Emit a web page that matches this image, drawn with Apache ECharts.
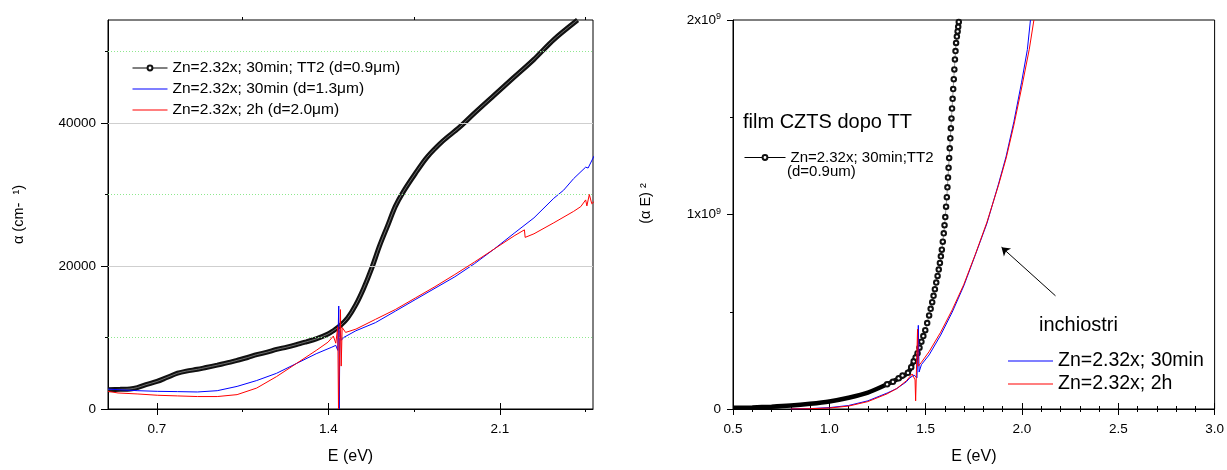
<!DOCTYPE html>
<html>
<head>
<meta charset="utf-8">
<script src="https://cdn.jsdelivr.net/npm/echarts/dist/echarts.min.js"></script>
<style>
html,body{margin:0;padding:0;background:#fff;}
#chart{width:1227px;height:470px;}
</style>
</head>
<body>
<div id="chart"></div>
<script>
// ---------- Left panel: absorption coefficient alpha (cm^-1) vs E (eV) ----------
const LEFT_E_LABELS = [0.7, 1.4, 2.1];
const LEFT_E_MINOR = [1.05, 1.75, 2.45];
const LEFT_ALPHA_LABELS = [0, 20000, 40000];
const LEFT_ALPHA_MINOR = [10000, 30000, 50000];
const LEFT_GRID_SOLID = [20000, 40000];
const LEFT_GRID_DOTTED = [10000, 30000, 50000];

const NAME_TT2_LEFT = 'Zn=2.32x; 30min; TT2 (d=0.9\u03bcm)';
const NAME_30_LEFT = 'Zn=2.32x; 30min (d=1.3\u03bcm)';
const NAME_2H_LEFT = 'Zn=2.32x; 2h (d=2.0\u03bcm)';

const leftTT2 = [
  [0.50,2700],[0.55,2750],[0.59,2800],[0.62,3000],[0.655,3400],[0.70,3850],[0.74,4400],
  [0.784,5000],[0.82,5300],[0.865,5550],[0.90,5800],[0.946,6130],[1.00,6550],[1.027,6800],
  [1.07,7200],[1.107,7600],[1.15,7950],[1.188,8330],[1.23,8650],[1.269,9000],[1.31,9400],
  [1.35,9800],[1.398,10480],[1.42,10950],[1.447,11620],[1.479,12770],[1.512,14600],
  [1.544,16900],[1.576,19630],[1.609,22840],[1.641,25580],[1.673,28330],[1.706,30400],
  [1.754,32900],[1.802,35200],[1.867,37480],[1.932,39300],[1.996,41370],[2.077,43890],
  [2.158,46400],[2.239,48900],[2.32,51670],[2.417,54400]
];
const left30min = [
  [0.50,2790],[0.541,2700],[0.622,2560],[0.703,2470],[0.784,2430],[0.865,2380],[0.946,2560],
  [1.027,3160],[1.107,3980],[1.188,4990],[1.269,6360],[1.35,7730],[1.414,8650],[1.43,8900],
  [1.438,8200],[1.442,14400],[1.444,0],[1.447,11000],[1.452,9600],[1.463,10020],[1.512,10940],
  [1.592,12080],[1.673,13680],[1.754,15290],[1.835,16890],[1.916,18490],[1.996,20320],
  [2.077,22380],[2.158,24580],[2.239,26730],[2.32,29470],[2.36,30600],[2.401,32220],
  [2.45,33820],[2.46,33700],[2.485,35420]
];
const left2h = [
  [0.50,2470],[0.541,2240],[0.622,2100],[0.703,1920],[0.784,1830],[0.865,1740],[0.946,1740],
  [1.027,2010],[1.107,2930],[1.188,4530],[1.269,6360],[1.35,8190],[1.398,9340],[1.42,10200],
  [1.43,9200],[1.438,11500],[1.441,0],[1.446,0],[1.449,13900],[1.452,6000],[1.456,11400],
  [1.47,10710],[1.512,11170],[1.592,12540],[1.673,13910],[1.754,15510],[1.835,17110],
  [1.916,18810],[1.996,20550],[2.077,22380],[2.158,24210],[2.19,24850],[2.20,25050],
  [2.203,24000],[2.239,24500],[2.32,26040],[2.401,27640],[2.43,28300],[2.45,29240],
  [2.455,28400],[2.465,30000],[2.475,28700],[2.485,29010]
];

// ---------- Right panel: (alpha E)^2 vs E (eV) ----------
const NAME_TT2_RIGHT = 'Zn=2.32x; 30min;TT2';
const NAME_TT2_RIGHT_2 = '(d=0.9um)';
const NAME_30_RIGHT = 'Zn=2.32x; 30min';
const NAME_2H_RIGHT = 'Zn=2.32x; 2h';
const TITLE_FILM = 'film CZTS dopo TT';
const TITLE_INK = 'inchiostri';

const rightTT2Band = [
  [0.5,6e6],[0.6,8e6],[0.7,1.2e7],[0.8,1.8e7],[0.9,2.7e7],[1.0,3.9e7],[1.1,5.8e7],
  [1.2,8.4e7],[1.3,1.27e8],[1.35,1.52e8],[1.408,1.86e8],[1.438,2.45e8],[1.458,2.87e8]
];
const rightTT2Points = [
  [1.30,1.27e8],[1.33,1.40e8],[1.36,1.58e8],[1.38,1.72e8],[1.408,1.86e8],[1.425,2.15e8],
  [1.438,2.45e8],[1.448,2.65e8],[1.458,2.87e8],[1.468,3.15e8],[1.478,3.46e8],[1.488,3.75e8],
  [1.498,4.05e8],[1.508,4.42e8],[1.518,4.81e8],[1.526,5.15e8],[1.534,5.49e8],[1.541,5.82e8],
  [1.548,6.16e8],[1.555,6.50e8],[1.562,6.84e8],[1.568,7.17e8],[1.574,7.51e8],[1.579,7.85e8],
  [1.584,8.19e8],[1.589,8.60e8],[1.594,9.03e8],[1.598,9.45e8],[1.602,9.87e8],[1.606,1.04e9],
  [1.61,1.089e9],[1.613,1.14e9],[1.616,1.19e9],[1.619,1.24e9],[1.622,1.291e9],[1.625,1.34e9],
  [1.628,1.392e9],[1.631,1.443e9],[1.634,1.494e9],[1.637,1.545e9],[1.64,1.595e9],
  [1.643,1.645e9],[1.646,1.696e9],[1.649,1.746e9],[1.652,1.797e9],[1.655,1.84e9],
  [1.658,1.882e9],[1.662,1.915e9],[1.666,1.941e9],[1.669,1.965e9],[1.672,1.99e9]
];
const right30min = [
  [0.8,0],[0.9,2e6],[1.0,7e6],[1.1,1.8e7],[1.2,4.2e7],[1.3,8.2e7],[1.35,1.05e8],[1.4,1.4e8],
  [1.418,1.6e8],[1.44,1.75e8],[1.455,1.6e8],[1.462,4.3e8],[1.466,1.9e8],[1.478,2.28e8],
  [1.518,2.78e8],[1.578,3.8e8],[1.638,4.98e8],[1.698,6.33e8],[1.758,7.93e8],[1.818,9.54e8],
  [1.878,1.156e9],[1.918,1.3e9],[1.958,1.477e9],[1.998,1.68e9],[2.028,1.848e9],[2.044,2.0e9]
];
const right2h = [
  [0.8,0],[0.9,1.5e6],[1.0,5e6],[1.1,1.5e7],[1.2,3.8e7],[1.3,7.8e7],[1.35,1.05e8],[1.4,1.45e8],
  [1.43,1.8e8],[1.445,1.5e8],[1.448,4.2e7],[1.452,1.9e8],[1.458,4.1e8],[1.462,2.2e8],
  [1.478,2.4e8],[1.518,2.95e8],[1.578,3.95e8],[1.638,5.1e8],[1.698,6.4e8],[1.758,7.95e8],
  [1.818,9.6e8],[1.878,1.15e9],[1.918,1.29e9],[1.958,1.46e9],[1.998,1.65e9],[2.038,1.85e9],
  [2.062,2.0e9]
];
// arrow pointing to the ink curves: [tail, head] in data units
const ARROW_INK = [[2.174, 0.582e9], [1.894, 0.832e9]];

// ---------- Build chart ----------
const FONT = 'Liberation Sans, Arial, Helvetica, sans-serif';
const chart = echarts.init(document.getElementById('chart'), null, {renderer: 'canvas'});

const BLUE = '#0000ff', RED = '#ff0000';
const tickLine = {color: '#000', width: 1};
const labelBase = {color: '#000', fontFamily: FONT, fontSize: 13.5};
const LINE_ICON = 'path://M0,0h40v1h-40z';

function hiddenTickAxis(extra) {
  return Object.assign({
    type: 'value',
    axisLine: {show: false},
    axisLabel: {show: false},
    splitLine: {show: false}
  }, extra);
}

const option = {
  animation: false,
  backgroundColor: '#fff',
  textStyle: {fontFamily: FONT},
  grid: [
    {left: 108, top: 20, width: 485, height: 396.5, show: true, borderColor: '#000', borderWidth: 1, containLabel: false},
    {left: 733, top: 20, width: 484, height: 395.5, show: true, borderColor: '#000', borderWidth: 1, containLabel: false}
  ],
  xAxis: [
    { // 0 left bottom (major)
      gridIndex: 0, type: 'value', position: 'bottom', min: 0.5, max: 2.48,
      axisLine: {show: true, onZero: false, lineStyle: tickLine},
      axisTick: {show: true, inside: false, length: 6, lineStyle: tickLine, customValues: LEFT_E_LABELS},
      axisLabel: Object.assign({margin: 13, customValues: LEFT_E_LABELS, formatter: v => v.toFixed(1)}, labelBase),
      splitLine: {show: false},
      name: 'E (eV)', nameLocation: 'middle', nameGap: 40,
      nameTextStyle: {color: '#000', fontFamily: FONT, fontSize: 16}
    },
    hiddenTickAxis({ // 1 left bottom minor
      gridIndex: 0, position: 'bottom', min: 0.5, max: 2.48,
      axisTick: {show: true, length: 3, lineStyle: tickLine, customValues: LEFT_E_MINOR}
    }),
    hiddenTickAxis({ // 2 left top major
      gridIndex: 0, position: 'top', min: 0.5, max: 2.48,
      axisTick: {show: true, length: 6, lineStyle: tickLine, customValues: LEFT_E_LABELS}
    }),
    hiddenTickAxis({ // 3 left top minor
      gridIndex: 0, position: 'top', min: 0.5, max: 2.48,
      axisTick: {show: true, length: 3, lineStyle: tickLine, customValues: LEFT_E_MINOR}
    }),
    { // 4 right bottom
      gridIndex: 1, type: 'value', position: 'bottom', min: 0.5, max: 3.0, interval: 0.5,
      axisLine: {show: true, onZero: false, lineStyle: tickLine},
      axisTick: {show: true, length: 6, lineStyle: tickLine},
      minorTick: {show: true, splitNumber: 5, length: 3, lineStyle: tickLine},
      axisLabel: Object.assign({margin: 13, formatter: v => v.toFixed(1), showMinLabel: true, showMaxLabel: true}, labelBase),
      splitLine: {show: false}, minorSplitLine: {show: false},
      name: 'E (eV)', nameLocation: 'middle', nameGap: 40,
      nameTextStyle: {color: '#000', fontFamily: FONT, fontSize: 16}
    },
    hiddenTickAxis({ // 5 right top
      gridIndex: 1, position: 'top', min: 0.5, max: 3.0, interval: 0.5,
      axisTick: {show: true, length: 6, lineStyle: tickLine},
      minorTick: {show: true, splitNumber: 5, length: 3, lineStyle: tickLine},
      minorSplitLine: {show: false}
    })
  ],
  yAxis: [
    { // 0 left main
      gridIndex: 0, type: 'value', position: 'left', min: 0, max: 54400,
      axisLine: {show: true, onZero: false, lineStyle: tickLine},
      axisTick: {show: true, length: 7, lineStyle: tickLine, customValues: LEFT_ALPHA_LABELS},
      axisLabel: Object.assign({margin: 12, customValues: LEFT_ALPHA_LABELS, formatter: v => String(Math.round(v))}, labelBase),
      splitLine: {show: false},
      name: '\u03b1 (cm-  \u00b9)', nameLocation: 'middle', nameGap: 82,
      nameTextStyle: {color: '#000', fontFamily: FONT, fontSize: 14.5}
    },
    hiddenTickAxis({ // 1 left minor
      gridIndex: 0, position: 'left', min: 0, max: 54400,
      axisTick: {show: true, length: 3, lineStyle: tickLine, customValues: LEFT_ALPHA_MINOR}
    }),
    { // 2 right main
      gridIndex: 1, type: 'value', position: 'left', min: 0, max: 2e9, interval: 1e9,
      axisLine: {show: true, onZero: false, lineStyle: tickLine},
      axisTick: {show: true, length: 6, lineStyle: tickLine},
      minorTick: {show: true, splitNumber: 2, length: 3, lineStyle: tickLine},
      axisLabel: Object.assign({
        margin: 12,
        formatter: v => v === 0 ? '{b|0}' : '{b|' + Math.round(v / 1e9) + 'x10}{s|9}',
        rich: {
          b: {fontSize: 13.5, fontFamily: FONT, color: '#000', lineHeight: 15},
          s: {fontSize: 9, fontFamily: FONT, color: '#000', verticalAlign: 'top', lineHeight: 9}
        }
      }, labelBase),
      splitLine: {show: false}, minorSplitLine: {show: false},
      name: '(\u03b1 E) \u00b2', nameLocation: 'middle', nameGap: 80,
      nameTextStyle: {color: '#000', fontFamily: FONT, fontSize: 14.5, padding: [0, 0, 0, 22]}
    }
  ],
  legend: [
    {
      left: 127, top: 55, orient: 'vertical', itemWidth: 35, itemHeight: 6, itemGap: 5,
      selectedMode: false,
      textStyle: {color: '#000', fontFamily: FONT, fontSize: 15.5},
      data: [
        {name: NAME_TT2_LEFT, lineStyle: {width: 1, color: '#000'}},
        {name: NAME_30_LEFT, icon: LINE_ICON, itemStyle: {color: BLUE, borderWidth: 0}},
        {name: NAME_2H_LEFT, icon: LINE_ICON, itemStyle: {color: RED, borderWidth: 0}}
      ]
    },
    {
      left: 739, top: 145, orient: 'vertical', itemWidth: 41, itemHeight: 6,
      selectedMode: false,
      textStyle: {color: '#000', fontFamily: FONT, fontSize: 15},
      data: [{name: NAME_TT2_RIGHT, lineStyle: {width: 1, color: '#000'}}]
    },
    {
      left: 1003, top: 346, orient: 'vertical', itemWidth: 45, itemHeight: 6, itemGap: 3,
      selectedMode: false,
      textStyle: {color: '#000', fontFamily: FONT, fontSize: 19.5},
      data: [
        {name: NAME_30_RIGHT, icon: LINE_ICON, itemStyle: {color: BLUE, borderWidth: 0}},
        {name: NAME_2H_RIGHT, icon: LINE_ICON, itemStyle: {color: RED, borderWidth: 0}}
      ]
    }
  ],
  graphic: [
    {type: 'text', x: 743, y: 122, silent: true,
      style: {text: TITLE_FILM, fill: '#000', font: '20px ' + FONT, verticalAlign: 'middle', align: 'left'}},
    {type: 'text', x: 787, y: 172, silent: true,
      style: {text: NAME_TT2_RIGHT_2, fill: '#000', font: '15px ' + FONT, verticalAlign: 'middle', align: 'left'}},
    {type: 'text', x: 1039, y: 325, silent: true,
      style: {text: TITLE_INK, fill: '#000', font: '20px ' + FONT, verticalAlign: 'middle', align: 'left'}}
  ],
  series: [
    { // grid lines of left panel
      type: 'line', name: 'grid-left', xAxisIndex: 0, yAxisIndex: 0, data: [], z: 1, silent: true,
      markLine: {
        silent: true, symbol: ['none', 'none'], label: {show: false}, animation: false,
        data: LEFT_GRID_SOLID.map(v => ({yAxis: v, lineStyle: {color: '#cfcfcf', width: 1, type: 'solid'}}))
          .concat(LEFT_GRID_DOTTED.map(v => ({yAxis: v, lineStyle: {color: '#8ee88e', width: 1, type: [1, 2]}})))
      }
    },
    {
      type: 'line', name: NAME_TT2_LEFT, xAxisIndex: 0, yAxisIndex: 0, data: leftTT2,
      symbol: 'emptyCircle', showSymbol: false, smooth: 0.3, z: 3,
      lineStyle: {color: '#111', width: 5}, itemStyle: {color: '#111'}
    },
    {
      type: 'line', name: 'tt2-core-left', xAxisIndex: 0, yAxisIndex: 0, data: leftTT2,
      symbol: 'none', smooth: 0.3, z: 3, silent: true,
      lineStyle: {color: '#8a8a8a', width: 0.8}
    },
    {
      type: 'line', name: NAME_30_LEFT, xAxisIndex: 0, yAxisIndex: 0, data: left30min,
      symbol: 'none', z: 4, lineStyle: {color: BLUE, width: 1}, itemStyle: {color: BLUE}
    },
    {
      type: 'line', name: NAME_2H_LEFT, xAxisIndex: 0, yAxisIndex: 0, data: left2h,
      symbol: 'none', z: 5, lineStyle: {color: RED, width: 1}, itemStyle: {color: RED}
    },
    {
      type: 'line', name: 'tt2-band-right', xAxisIndex: 4, yAxisIndex: 2, data: rightTT2Band,
      symbol: 'none', smooth: 0.3, z: 3, silent: true,
      lineStyle: {color: '#000', width: 4.5}
    },
    {
      type: 'line', name: NAME_TT2_RIGHT, xAxisIndex: 4, yAxisIndex: 2, data: rightTT2Points,
      symbol: 'emptyCircle', symbolSize: 4.5, showSymbol: true, showAllSymbol: true, z: 3,
      lineStyle: {color: '#555', width: 0.6}, itemStyle: {color: '#111', borderWidth: 0.9}
    },
    {
      type: 'line', name: NAME_30_RIGHT, xAxisIndex: 4, yAxisIndex: 2, data: right30min,
      symbol: 'none', z: 4, lineStyle: {color: BLUE, width: 1}, itemStyle: {color: BLUE}
    },
    {
      type: 'line', name: NAME_2H_RIGHT, xAxisIndex: 4, yAxisIndex: 2, data: right2h,
      symbol: 'none', z: 5, lineStyle: {color: RED, width: 1}, itemStyle: {color: RED},
      markLine: {
        silent: true, symbol: ['none', 'arrow'], symbolSize: 8, label: {show: false}, animation: false,
        lineStyle: {color: '#000', width: 1, type: 'solid'},
        data: [[{coord: ARROW_INK[0]}, {coord: ARROW_INK[1]}]]
      }
    }
  ]
};
chart.setOption(option);
</script>
</body>
</html>
